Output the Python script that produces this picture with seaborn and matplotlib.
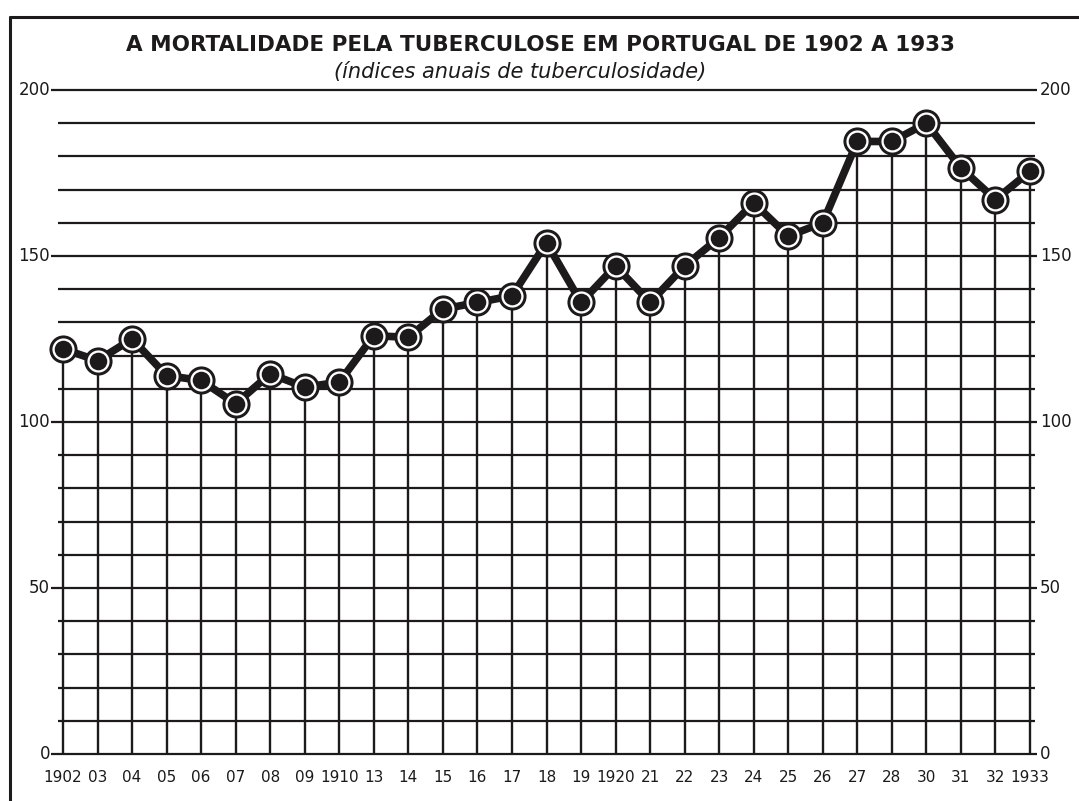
import matplotlib
matplotlib.use("Agg")
import matplotlib.pyplot as plt
from matplotlib.lines import Line2D
from matplotlib import font_manager
import seaborn as sns
import numpy as np
import pandas as pd

# ---- data ----
year_labels = ["1902", "03", "04", "05", "06", "07", "08", "09", "1910", "13", "14",
               "15", "16", "17", "18", "19", "1920", "21", "22", "23", "24", "25",
               "26", "27", "28", "30", "31", "32", "1933"]
index_values = [122, 118.5, 125, 114, 112.5, 105.5, 114.5, 110.5, 112, 126, 125.5,
                134, 136, 138, 154, 136, 147, 136, 147, 155.5, 166, 156,
                160, 184.5, 184.5, 190, 176.5, 167, 175.5]
y_tick_values = [0, 50, 100, 150, 200]
grid_values = list(range(0, 201, 10))
title_text = "A MORTALIDADE PELA TUBERCULOSE EM PORTUGAL DE 1902 A 1933"
subtitle_text = "(índices anuais de tuberculosidade)"

df = pd.DataFrame({"pos": np.arange(len(year_labels)), "valor": index_values})

sns.set_theme(style="white")
plt.rcParams["font.family"] = ["DejaVu Sans"]

installed = {f.name for f in font_manager.fontManager.ttflist}
narrow = [f for f in ["Liberation Sans Narrow", "DejaVu Sans Condensed"] if f in installed]
xlab_family = narrow + ["DejaVu Sans"]
xlab_size = 13 if narrow else 11

W, H = 1079, 801
fig = plt.figure(figsize=(W / 100, H / 100), dpi=100)
fig.patch.set_facecolor("white")

# axes placement: x 0..28 -> px 63..1030 ; y 0..200 -> px 754..90
px_per_x = (1030 - 63) / 28
left_px = 63 - 0.5 * px_per_x
right_px = 1030 + 0.5 * px_per_x
ax = fig.add_axes([left_px / W, (H - 754) / H, (right_px - left_px) / W, (754 - 90) / H])
ax.set_xlim(-0.5, len(year_labels) - 0.5)
ax.set_ylim(0, 200)
ax.set_facecolor("none")
for s in ax.spines.values():
    s.set_visible(False)
ax.set_xticks([])
ax.set_yticks([])

ink = "#1c1a1b"
n = len(year_labels)

# horizontal grid lines
for g in grid_values:
    if g in y_tick_values:
        ax.hlines(g, -0.35, n - 1 + 0.2, color=ink, lw=1.6, zorder=1, clip_on=False)
    else:
        ax.hlines(g, -0.15, n - 1 + 0.15, color=ink, lw=1.6, zorder=1, clip_on=False)

# vertical stems from 0 to each value
ax.vlines(df["pos"], 0, df["valor"], color=ink, lw=1.7, zorder=1)

# thick connecting line
sns.lineplot(data=df, x="pos", y="valor", ax=ax, color=ink, lw=5.5,
             zorder=3, legend=False)
# marker: black outer disc, white ring, black centre
for size, col, z in [(410, ink, 4), (255, "white", 5), (160, ink, 6)]:
    sns.scatterplot(data=df, x="pos", y="valor", ax=ax, s=size, color=col,
                    linewidth=0, zorder=z, legend=False, clip_on=False)
ax.set_xlabel("")
ax.set_ylabel("")

# y labels both sides
for v in y_tick_values:
    ax.text(-0.38, v, str(v), ha="right", va="center", fontsize=12, color=ink)
    ax.text(n - 1 + 0.28, v, str(v), ha="left", va="center", fontsize=12, color=ink)

# x labels
for i, lab in enumerate(year_labels):
    ax.text(i, -7, lab, ha="center", va="center", fontsize=xlab_size, color=ink,
            family=xlab_family)

# titles
fig.text(541 / W, 1 - 45 / H, title_text, ha="center", va="center",
         fontsize=15.5, fontweight="bold", color=ink)
fig.text(520 / W, 1 - 72 / H, subtitle_text, ha="center", va="center",
         fontsize=15, style="italic", color=ink)

# frame (top and left borders)
fig.add_artist(Line2D([10 / W, 1.0], [1 - 17 / H, 1 - 17 / H], color=ink, lw=2.2,
                      transform=fig.transFigure))
fig.add_artist(Line2D([10 / W, 10 / W], [1 - 17 / H, 0], color=ink, lw=2.2,
                      transform=fig.transFigure))

fig.savefig("out.png", dpi=100, facecolor="white")
